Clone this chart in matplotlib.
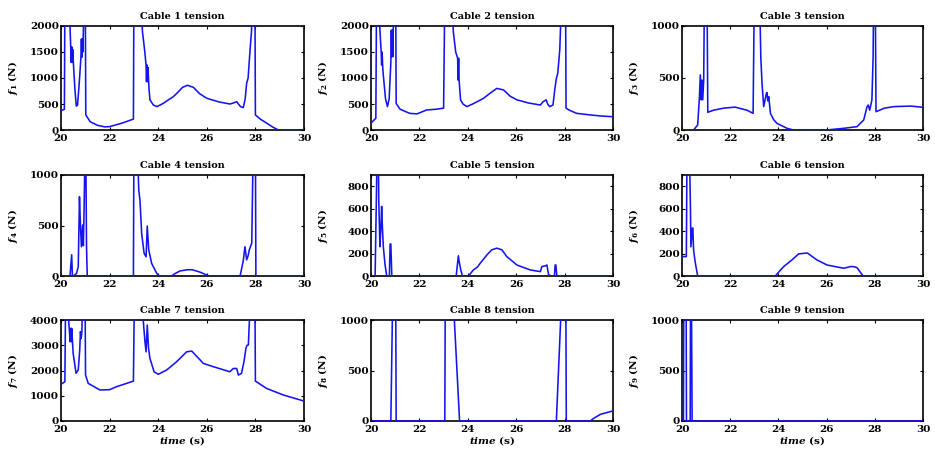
import matplotlib
matplotlib.use("Agg")
import matplotlib.pyplot as plt

plt.rcParams['font.family'] = ['DejaVu Serif']
plt.rcParams['font.weight'] = 'bold'
plt.rcParams['mathtext.fontset'] = 'custom'
plt.rcParams['mathtext.rm'] = 'DejaVu Serif:bold'
plt.rcParams['mathtext.it'] = 'DejaVu Serif:italic:bold'
plt.rcParams['mathtext.bf'] = 'DejaVu Serif:bold'

# (time s, tension N); values above the axis limit are clipped
cable1 = [(20.0, 370), (20.14, 400), (20.16, 2600), (20.33, 2600), (20.37, 2000), (20.40, 1600),
          (20.42, 1300), (20.44, 1600), (20.46, 1300), (20.48, 1550), (20.52, 1200), (20.57, 800),
          (20.63, 460), (20.68, 480), (20.75, 900), (20.82, 1400), (20.84, 1750), (20.86, 1400),
          (20.88, 1750), (20.90, 1500), (20.93, 2100), (20.95, 2600), (21.0, 2600), (21.02, 290),
          (21.2, 160), (21.5, 90), (21.8, 60), (22.0, 65), (22.5, 130), (22.98, 210), (23.0, 2600),
          (23.3, 2600), (23.35, 1900), (23.45, 1500), (23.5, 1250), (23.52, 930), (23.54, 1250),
          (23.56, 930), (23.58, 1200), (23.62, 800), (23.66, 580), (23.8, 480), (23.95, 450),
          (24.2, 510), (24.45, 590), (24.62, 640), (24.8, 720), (25.0, 820), (25.2, 860), (25.45, 820),
          (25.7, 700), (26.0, 610), (26.5, 540), (26.95, 500), (27.1, 520), (27.23, 545), (27.3, 500),
          (27.39, 450), (27.5, 430), (27.58, 600), (27.64, 900), (27.7, 1000), (27.78, 1540),
          (27.84, 1900), (27.88, 2600), (27.98, 2600), (28.0, 290), (28.2, 210), (28.47, 130),
          (28.7, 60), (28.95, 0), (30.0, 0)]
cable2 = [(20.0, 130), (20.1, 180), (20.2, 225), (20.23, 2600), (20.33, 2600), (20.36, 2000),
          (20.42, 1500), (20.44, 1250), (20.46, 1500), (20.48, 1250), (20.5, 1100), (20.6, 600),
          (20.68, 450), (20.75, 600), (20.82, 1300), (20.84, 1920), (20.86, 1410), (20.88, 1920),
          (20.9, 1410), (20.93, 2200), (20.95, 2600), (21.02, 2600), (21.04, 510), (21.2, 400),
          (21.6, 320), (21.9, 310), (22.3, 385), (22.7, 400), (23.0, 420), (23.05, 2600),
          (23.35, 2600), (23.4, 1900), (23.5, 1500), (23.58, 1380), (23.6, 960), (23.62, 1380),
          (23.64, 960), (23.7, 580), (23.8, 500), (23.96, 450), (24.2, 500), (24.45, 560),
          (24.65, 610), (24.9, 700), (25.2, 800), (25.48, 770), (25.75, 650), (26.03, 580),
          (26.5, 520), (27.0, 480), (27.1, 540), (27.24, 580), (27.3, 500), (27.38, 450),
          (27.52, 480), (27.6, 800), (27.66, 990), (27.72, 1100), (27.8, 1540), (27.85, 2200),
          (27.88, 2600), (28.04, 2600), (28.06, 420), (28.2, 380), (28.5, 320), (29.06, 290),
          (29.48, 270), (30.0, 255)]
cable3 = [(20.0, 0), (20.48, 0), (20.65, 48), (20.72, 300), (20.76, 530), (20.8, 290), (20.83, 480),
          (20.86, 290), (20.9, 480), (20.93, 1300), (21.04, 1300), (21.07, 170), (21.3, 190),
          (21.73, 210), (22.2, 220), (22.7, 190), (22.95, 160), (23.0, 1300), (23.22, 1300),
          (23.27, 700), (23.32, 450), (23.39, 225), (23.5, 350), (23.53, 360), (23.56, 280),
          (23.6, 320), (23.67, 160), (23.8, 100), (23.94, 64), (24.36, 16), (24.63, 0), (26.0, 0),
          (26.7, 16), (27.26, 32), (27.54, 96), (27.68, 225), (27.73, 240), (27.79, 190),
          (27.88, 290), (27.93, 700), (27.95, 1300), (28.02, 1300), (28.05, 176), (28.4, 210),
          (28.8, 225), (29.5, 230), (30.0, 218)]
cable4 = [(20.0, 0), (20.37, 0), (20.44, 210), (20.47, 0), (20.51, 0), (20.64, 26), (20.71, 92),
          (20.76, 785), (20.8, 500), (20.84, 290), (20.89, 505), (20.92, 300), (20.95, 650),
          (20.99, 1300), (21.02, 1300), (21.05, 300), (21.08, 0), (22.98, 0), (23.0, 1300),
          (23.14, 1300), (23.2, 850), (23.25, 750), (23.32, 420), (23.42, 225), (23.5, 190),
          (23.55, 495), (23.61, 260), (23.73, 125), (23.94, 26), (24.05, 0), (24.55, 0), (24.7, 25),
          (24.9, 50), (25.2, 62), (25.4, 62), (25.7, 40), (26.0, 10), (26.1, 0), (27.37, 0),
          (27.5, 150), (27.57, 290), (27.64, 160), (27.7, 200), (27.75, 260), (27.85, 325),
          (27.91, 1300), (28.0, 1300), (28.02, 0), (30.0, 0)]
cable5 = [(20.0, 0), (20.17, 0), (20.26, 1200), (20.3, 1200), (20.32, 680), (20.37, 260),
          (20.41, 440), (20.44, 620), (20.47, 440), (20.51, 260), (20.58, 100), (20.65, 0),
          (20.76, 0), (20.79, 285), (20.82, 285), (20.86, 0), (23.52, 0), (23.61, 180), (23.65, 120),
          (23.71, 54), (23.78, 0), (24.03, 0), (24.23, 54), (24.4, 80), (24.51, 113), (24.65, 150),
          (24.79, 188), (24.99, 233), (25.2, 248), (25.41, 233), (25.61, 173), (26.03, 98),
          (26.58, 54), (27.0, 39), (27.06, 84), (27.2, 90), (27.27, 98), (27.34, 9), (27.48, 0),
          (27.58, 0), (27.61, 98), (27.64, 98), (27.68, 0), (30.0, 0)]
cable6 = [(20.0, 173), (20.18, 173), (20.21, 1200), (20.3, 1200), (20.35, 620), (20.37, 260),
          (20.43, 427), (20.45, 427), (20.48, 233), (20.55, 120), (20.65, 0), (23.87, 0),
          (24.22, 84), (24.56, 143), (24.84, 197), (25.2, 205), (25.6, 143), (26.02, 98),
          (26.71, 69), (26.99, 84), (27.1, 84), (27.26, 75), (27.43, 24), (27.51, 0), (30.0, 0)]
cable7 = [(20.0, 1450), (20.16, 1560), (20.19, 5000), (20.28, 5000), (20.32, 3900), (20.38, 3140),
          (20.4, 3670), (20.42, 3140), (20.44, 3670), (20.5, 2680), (20.62, 1890), (20.71, 2020),
          (20.77, 2800), (20.8, 3540), (20.83, 3270), (20.86, 3540), (20.89, 5000), (20.99, 5000),
          (21.01, 1820), (21.12, 1490), (21.6, 1230), (22.0, 1240), (22.29, 1360), (22.98, 1580),
          (23.02, 5000), (23.3, 5000), (23.4, 3800), (23.45, 3200), (23.5, 2740), (23.55, 3800),
          (23.6, 2900), (23.66, 2480), (23.83, 1950), (24.0, 1850), (24.35, 2020), (24.76, 2350),
          (25.17, 2740), (25.38, 2770), (25.86, 2280), (26.27, 2150), (26.95, 1950), (27.09, 2080),
          (27.23, 2080), (27.3, 1820), (27.43, 1890), (27.53, 2350), (27.61, 2880), (27.66, 3000),
          (27.71, 3010), (27.8, 5000), (27.98, 5000), (28.0, 1580), (28.46, 1290), (29.15, 1030),
          (30.0, 790)]
cable8 = [(20.0, 0), (20.82, 0), (20.9, 1300), (21.02, 1300), (21.04, 0), (23.05, 0), (23.07, 1300),
          (23.38, 1300), (23.66, 0), (27.66, 0), (27.89, 1300), (28.05, 1300), (28.07, 0),
          (29.06, 0), (29.2, 26), (29.48, 66), (30.0, 100)]
cable9 = [(20.0, 0), (20.06, 0), (20.075, 1300), (20.17, 1300), (20.185, 0), (20.34, 0),
          (20.355, 1300), (20.39, 1300), (20.42, 0), (30.0, 0)]

cables = [cable1, cable2, cable3, cable4, cable5, cable6, cable7, cable8, cable9]
titles = ["Cable 1 tension", "Cable 2 tension", "Cable 3 tension",
          "Cable 4 tension", "Cable 5 tension", "Cable 6 tension",
          "Cable 7 tension", "Cable 8 tension", "Cable 9 tension"]
ylims = [2000, 2000, 1000, 1000, 900, 900, 4000, 1000, 1000]
yticks = [[0, 500, 1000, 1500, 2000], [0, 500, 1000, 1500, 2000], [0, 500, 1000],
          [0, 500, 1000], [0, 200, 400, 600, 800], [0, 200, 400, 600, 800],
          [0, 1000, 2000, 3000, 4000], [0, 500, 1000], [0, 500, 1000]]
xticks = [20, 22, 24, 26, 28, 30]

fig = plt.figure(figsize=(9.35, 4.5), dpi=100)
W, H = 935, 450
lefts = [61, 371, 682]
tops = [26, 175, 320]
bottoms = [130, 276, 421]
widths = [243, 242, 241]

for i, data in enumerate(cables):
    r, c = divmod(i, 3)
    ax = fig.add_axes([lefts[c] / W, 1 - bottoms[r] / H, widths[c] / W, (bottoms[r] - tops[r]) / H])
    t = [p[0] for p in data]
    v = [p[1] for p in data]
    ax.plot(t, v, color='#1414ee', lw=1.15, zorder=3)
    ax.set_xlim(20, 30)
    ax.set_ylim(0, ylims[i])
    ax.set_xticks(xticks)
    ax.set_yticks(yticks[i])
    ax.tick_params(direction='in', top=True, right=True, length=2.5, width=0.8,
                   labelsize=7.5)
    ax.tick_params(axis='y', pad=1.5)
    ax.tick_params(axis='x', pad=3)
    for lab in ax.get_xticklabels() + ax.get_yticklabels():
        lab.set_fontweight('bold')
    for s in ax.spines.values():
        s.set_linewidth(1.2)
    ax.set_title(titles[i], fontsize=7, fontweight='bold', pad=5)
    ax.set_ylabel(r'$\mathit{f}_{%d}$ (N)' % (i + 1), fontsize=7.5, fontweight='bold')
    ax.yaxis.set_label_coords(-0.17, 0.5)
    if r == 2:
        ax.set_xlabel(r'$\mathit{time}$ (s)', fontsize=7.5, fontweight='bold', labelpad=0)

fig.savefig("out.png", dpi=100)
